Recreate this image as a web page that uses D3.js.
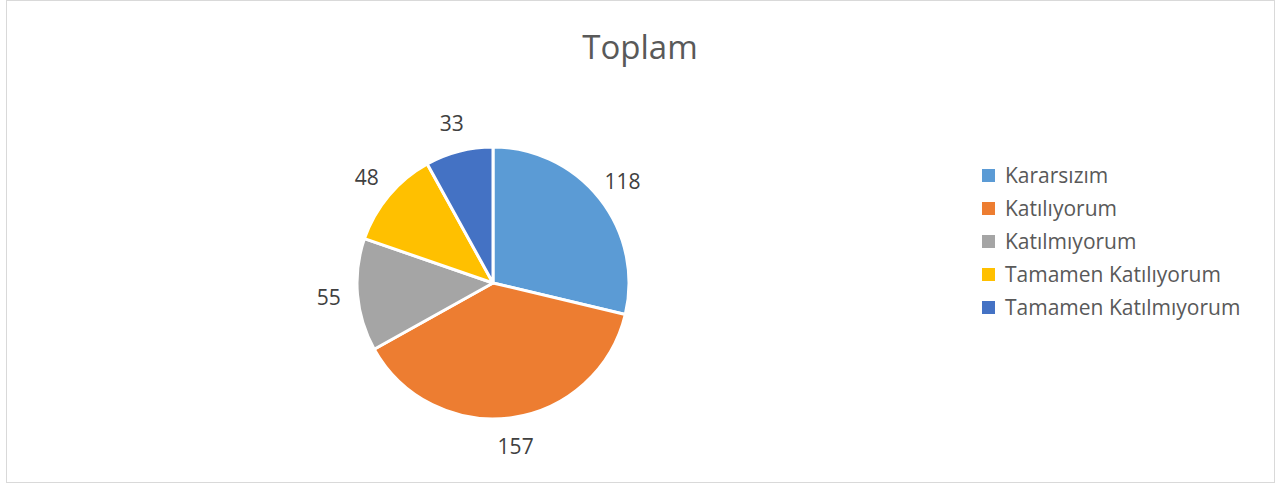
<!DOCTYPE html>
<html>
<head>
<meta charset="utf-8">
<script src="https://cdn.jsdelivr.net/npm/d3@7"></script>
<style>
  body { margin: 0; background: #fff; }
  svg { display: block; font-family: "Open Sans", sans-serif; }
</style>
</head>
<body>
<div id="chart"></div>
<script>
// data
var categories = ["Kararsızım", "Katılıyorum", "Katılmıyorum", "Tamamen Katılıyorum", "Tamamen Katılmıyorum"];
var values = [118, 157, 55, 48, 33];
var colors = ["#5B9BD5", "#ED7D31", "#A5A5A5", "#FFC000", "#4472C4"];
var title = "Toplam";

var W = 1277, H = 485;

var svg = d3.select("#chart").append("svg")
    .attr("width", W)
    .attr("height", H);

// chart frame
svg.append("rect")
    .attr("x", 6.5).attr("y", 0.5)
    .attr("width", 1268).attr("height", 482)
    .attr("fill", "#fff")
    .attr("stroke", "#d9d9d9")
    .attr("stroke-width", 1);

// title
svg.append("text")
    .attr("x", 640)
    .attr("y", 59)
    .attr("text-anchor", "middle")
    .style("font-size", "33px")
    .style("fill", "#595959")
    .text(title);

// pie
var cx = 493, cy = 283, r = 136;
var data = categories.map(function(c, i) { return {name: c, value: values[i], color: colors[i]}; });

var pie = d3.pie().sort(null).value(function(d) { return d.value; });
var arc = d3.arc().innerRadius(0).outerRadius(r);
var labelArc = d3.arc().innerRadius(165).outerRadius(165);

var g = svg.append("g").attr("transform", "translate(" + cx + "," + cy + ")");

g.selectAll("path")
  .data(pie(data))
  .enter()
  .append("path")
    .attr("d", arc)
    .attr("fill", function(d) { return d.data.color; })
    .attr("stroke", "#fff")
    .attr("stroke-width", 3)
    .attr("stroke-linejoin", "round");

g.selectAll("text.lbl")
  .data(pie(data))
  .enter()
  .append("text")
    .attr("class", "lbl")
    .attr("transform", function(d) { return "translate(" + labelArc.centroid(d) + ")"; })
    .attr("text-anchor", "middle")
    .attr("dominant-baseline", "central")
    .style("font-size", "21px")
    .style("fill", "#404040")
    .text(function(d) { return d.data.value; });

// legend
var legend = svg.append("g").attr("transform", "translate(982,175)");
var rows = legend.selectAll("g")
  .data(data)
  .enter()
  .append("g")
    .attr("transform", function(d, i) { return "translate(0," + (i * 33) + ")"; });

rows.append("rect")
    .attr("x", 0).attr("y", -6)
    .attr("width", 13).attr("height", 13)
    .attr("fill", function(d) { return d.color; });

rows.append("text")
    .attr("x", 23)
    .attr("y", 0)
    .attr("dominant-baseline", "central")
    .style("font-size", "21px")
    .style("fill", "#595959")
    .text(function(d) { return d.name; });
</script>
</body>
</html>
